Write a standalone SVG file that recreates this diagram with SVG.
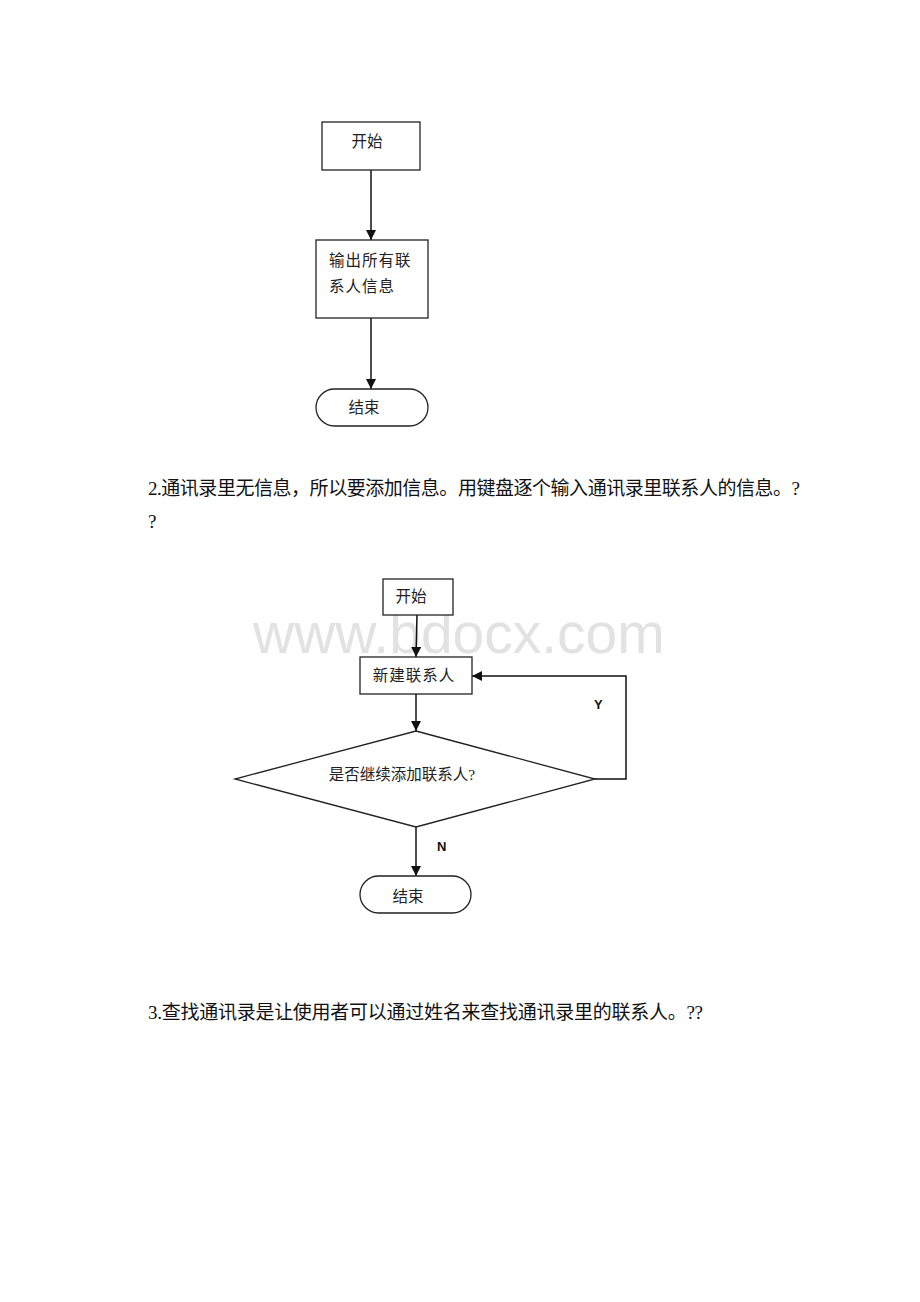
<svg xmlns="http://www.w3.org/2000/svg" width="920" height="1302" viewBox="0 0 920 1302">
<style>
.box{fill:#fff;stroke:#222;stroke-width:1.3}
.ln{fill:none;stroke:#111;stroke-width:1.5}
.t{font-family:"Liberation Serif","Noto Sans CJK SC",serif;font-size:15.5px;fill:#222}
.p{font-family:"Liberation Serif","Noto Sans CJK SC",serif;font-size:19px;fill:#111}
.lb{font-family:"Liberation Sans",Arial,sans-serif;font-size:13px;font-weight:bold;fill:#111}
.wm{font-family:"Liberation Sans",Arial,sans-serif;font-size:57px;fill:#e2e2e2}
</style>
<defs>
<marker id="ah" viewBox="0 0 10 10" refX="10" refY="5" markerWidth="10" markerHeight="10" markerUnits="userSpaceOnUse" orient="auto">
<path d="M0,0 L10,5 L0,10 z" fill="#111"/>
</marker>
</defs>
<rect width="920" height="1302" fill="#fff"/>

<text class="wm" x="253" y="653">www.bdocx.com</text>

<g id="connectors">
<line class="ln" x1="371" y1="170" x2="371" y2="240" marker-end="url(#ah)"/>
<line class="ln" x1="371" y1="318" x2="371" y2="389" marker-end="url(#ah)"/>
<line class="ln" x1="417" y1="615" x2="416" y2="657" marker-end="url(#ah)"/>
<line class="ln" x1="416" y1="694" x2="416" y2="731" marker-end="url(#ah)"/>
<polyline class="ln" points="595,779 626,779 626,676 472,676" marker-end="url(#ah)"/>
<line class="ln" x1="416" y1="827" x2="416" y2="876" marker-end="url(#ah)"/>
<text class="lb" x="594" y="709">Y</text>
<text class="lb" x="437" y="851">N</text>
</g>

<g id="start1">
<rect class="box" x="322" y="122" width="98" height="48"/>
<text class="t" x="367" y="147" text-anchor="middle">开始</text>
</g>
<g id="output1">
<rect class="box" x="316" y="240" width="112" height="78"/>
<text class="t" x="329" y="266" letter-spacing="1">输出所有联</text>
<text class="t" x="329" y="292" letter-spacing="1">系人信息</text>
</g>
<g id="end1">
<rect class="box" x="316" y="389" width="112" height="37" rx="18.5" ry="18.5"/>
<text class="t" x="364" y="413" text-anchor="middle">结束</text>
</g>

<text class="p" x="148" y="495" textLength="652" lengthAdjust="spacing">2.通讯录里无信息，所以要添加信息。用键盘逐个输入通讯录里联系人的信息。?</text>
<text class="p" x="148" y="528">?</text>

<g id="start2">
<rect class="box" x="383" y="579" width="70" height="36"/>
<text class="t" x="411" y="602" text-anchor="middle">开始</text>
</g>
<g id="new2">
<rect class="box" x="360" y="657" width="112" height="37"/>
<text class="t" x="414" y="681" text-anchor="middle" letter-spacing="1">新建联系人</text>
</g>
<g id="decision2">
<polygon class="box" points="416,731 595,779 416,827 235,779"/>
<text class="t" x="402" y="780" text-anchor="middle">是否继续添加联系人?</text>
</g>
<g id="end2">
<rect class="box" x="360" y="876" width="111" height="37" rx="18.5" ry="18.5"/>
<text class="t" x="408" y="902" text-anchor="middle">结束</text>
</g>

<text class="p" x="148" y="1019" textLength="555" lengthAdjust="spacing">3.查找通讯录是让使用者可以通过姓名来查找通讯录里的联系人。??</text>
</svg>
